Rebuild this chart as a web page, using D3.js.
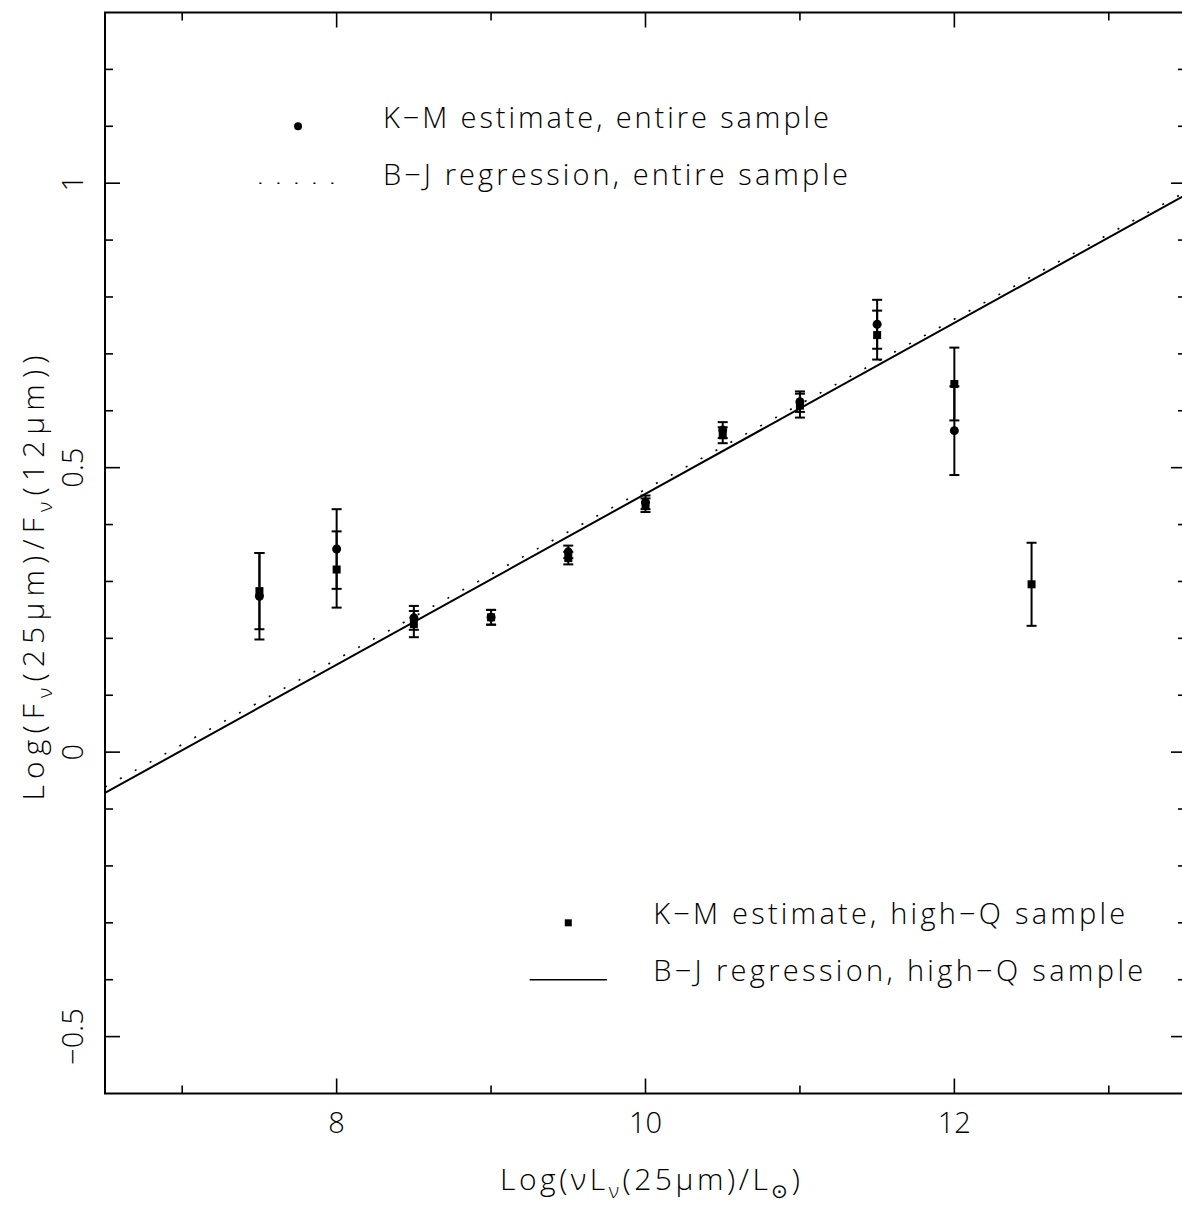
<!DOCTYPE html>
<html>
<head>
<meta charset="utf-8">
<script src="https://cdn.jsdelivr.net/npm/d3@7"></script>
<style>
  html, body { margin: 0; padding: 0; background: #fff; }
  svg { display: block; }
  text { font-family: "Open Sans", "Liberation Sans", sans-serif; font-weight: 300; fill: #000; }
</style>
</head>
<body>
<svg id="chart" width="1182" height="1207"></svg>
<script>
// Luminosity bins, log(nu L_nu(25um)/Lsun)
const lum = [7.5, 8, 8.5, 9, 9.5, 10, 10.5, 11, 11.5, 12, 12.5];

// Kaplan-Meier estimates of log(F25/F12), entire sample (circles)
const kmAll    = [0.274, 0.357, 0.236, 0.237, 0.352, 0.439, 0.566, 0.616, 0.752, 0.565, null];
const kmAllErr = [0.076, 0.070, 0.021, 0.013, 0.011, 0.012, 0.014, 0.018, 0.043, 0.078, null];

// Kaplan-Meier estimates, high-Q sample (squares)
const kmHQ    = [0.283, 0.321, 0.225, 0.237, 0.341, 0.434, 0.557, 0.609, 0.733, 0.647, 0.295];
const kmHQErr = [0.067, 0.067, 0.023, 0.013, 0.011, 0.012, 0.014, 0.021, 0.043, 0.064, 0.073];

// Buckley-James regressions: value at log L = 10 and slope
const bjAll = { at10: 0.462, slope: 0.1495 };
const bjHQ  = { at10: 0.454, slope: 0.1502 };

// Axis ticks
const xTicks = [7, 8, 9, 10, 11, 12, 13];
const xLabels = [8, 10, 12];
const yTicks = d3.range(-5, 13).map(i => i / 10);
const yLabels = [-0.5, 0, 0.5, 1];

// Legend entries
const legendText = [
  "K\u2212M estimate, entire sample",
  "B\u2212J regression, entire sample",
  "K\u2212M estimate, high\u2212Q sample",
  "B\u2212J regression, high\u2212Q sample"
];

const svg = d3.select("#chart");
const x = d3.scaleLinear().domain([6.5, 13.5]).range([105, 1186]);
const y = d3.scaleLinear().domain([-0.6, 1.3]).range([1093.5, 12.5]);
const [x0, x1] = x.range();
const [y0, y1] = y.range();

svg.append("defs").append("clipPath").attr("id", "plotclip")
  .append("rect").attr("x", x0).attr("y", y1).attr("width", x1 - x0).attr("height", y0 - y1);

const fmt = v => (v < 0 ? "\u2212" : "") + String(Math.abs(v));

// Frame
svg.append("rect").attr("x", x0).attr("y", y1).attr("width", x1 - x0).attr("height", y0 - y1)
  .attr("fill", "none").attr("stroke", "#000").attr("stroke-width", 2);

// Ticks on all four sides, pointing inward
const tickG = svg.append("g").attr("stroke", "#000").attr("stroke-width", 1.6);
xTicks.forEach(t => {
  const len = xLabels.includes(t) ? 15 : 8;
  tickG.append("line").attr("x1", x(t)).attr("x2", x(t)).attr("y1", y0).attr("y2", y0 - len);
  tickG.append("line").attr("x1", x(t)).attr("x2", x(t)).attr("y1", y1).attr("y2", y1 + len);
});
yTicks.forEach(t => {
  const major = yLabels.some(l => Math.abs(l - t) < 1e-9);
  const len = major ? 15 : 8;
  tickG.append("line").attr("y1", y(t)).attr("y2", y(t)).attr("x1", x0).attr("x2", x0 + len);
  tickG.append("line").attr("y1", y(t)).attr("y2", y(t)).attr("x1", x1).attr("x2", x1 - len);
});

// Tick labels
svg.append("g").selectAll("text").data(xLabels).join("text")
  .attr("x", d => x(d)).attr("y", 1133)
  .attr("text-anchor", "middle").attr("font-size", 29)
  .text(d => fmt(d));
svg.append("g").selectAll("text").data(yLabels).join("text")
  .attr("transform", d => `translate(83,${y(d)}) rotate(-90)`)
  .attr("text-anchor", "middle").attr("font-size", 29)
  .text(d => fmt(d));

// Axis titles
const xt = svg.append("text").attr("x", 650).attr("y", 1190)
  .attr("text-anchor", "middle").attr("font-size", 30)
  .attr("textLength", 300).attr("lengthAdjust", "spacing");
xt.append("tspan").text("Log(\u03bdL");
xt.append("tspan").attr("dy", 8).attr("font-size", 20).text("\u03bd");
xt.append("tspan").attr("dy", -8).text("(25\u03bcm)/L");
xt.append("tspan").attr("dy", 8).attr("font-size", 20).text("\u2299");
xt.append("tspan").attr("dy", -8).text(")");

const yt = svg.append("text").attr("transform", "translate(44,578) rotate(-90)")
  .attr("text-anchor", "middle").attr("font-size", 30)
  .attr("textLength", 445).attr("lengthAdjust", "spacing");
yt.append("tspan").text("Log(F");
yt.append("tspan").attr("dy", 8).attr("font-size", 20).text("\u03bd");
yt.append("tspan").attr("dy", -8).text("(25\u03bcm)/F");
yt.append("tspan").attr("dy", 8).attr("font-size", 20).text("\u03bd");
yt.append("tspan").attr("dy", -8).text("(12\u03bcm))");

// Regression lines
const plot = svg.append("g").attr("clip-path", "url(#plotclip)");
const lineGen = d3.line().x(d => x(d[0])).y(d => y(d[1]));
const fitPts = fit => x.domain().map(X => [X, fit.at10 + fit.slope * (X - 10)]);
plot.append("path").attr("d", lineGen(fitPts(bjAll)))
  .attr("fill", "none").attr("stroke", "#000").attr("stroke-width", 1.6)
  .attr("stroke-dasharray", "2,15");
plot.append("path").attr("d", lineGen(fitPts(bjHQ)))
  .attr("fill", "none").attr("stroke", "#000").attr("stroke-width", 2);

// Error bars
function errorBars(vals, errs) {
  const pts = lum.map((X, i) => ({ X, v: vals[i], e: errs[i] })).filter(d => d.v != null);
  const g = plot.append("g").attr("stroke", "#000").attr("stroke-width", 2);
  pts.forEach(d => {
    g.append("line").attr("x1", x(d.X)).attr("x2", x(d.X)).attr("y1", y(d.v - d.e)).attr("y2", y(d.v + d.e));
    [d.v - d.e, d.v + d.e].forEach(c =>
      g.append("line").attr("x1", x(d.X) - 5).attr("x2", x(d.X) + 5).attr("y1", y(c)).attr("y2", y(c)));
  });
  return pts;
}
const ptsAll = errorBars(kmAll, kmAllErr);
const ptsHQ = errorBars(kmHQ, kmHQErr);

plot.append("g").selectAll("circle").data(ptsAll).join("circle")
  .attr("cx", d => x(d.X)).attr("cy", d => y(d.v)).attr("r", 4.5).attr("fill", "#000");
plot.append("g").selectAll("rect").data(ptsHQ).join("rect")
  .attr("x", d => x(d.X) - 4).attr("y", d => y(d.v) - 4)
  .attr("width", 8).attr("height", 8).attr("fill", "#000");

// Legend, placed in data coordinates
const leg = svg.append("g");
leg.append("circle").attr("cx", x(7.75)).attr("cy", y(1.1)).attr("r", 4).attr("fill", "#000");
leg.append("line").attr("x1", x(7.5)).attr("x2", x(8.0)).attr("y1", y(1.0)).attr("y2", y(1.0))
  .attr("stroke", "#000").attr("stroke-width", 1.6).attr("stroke-dasharray", "2,16");
leg.append("rect").attr("x", x(9.5) - 3.5).attr("y", y(-0.3) - 3.5).attr("width", 7).attr("height", 7).attr("fill", "#000");
leg.append("line").attr("x1", x(9.25)).attr("x2", x(9.75)).attr("y1", y(-0.4)).attr("y2", y(-0.4))
  .attr("stroke", "#000").attr("stroke-width", 1.6);

const legRows = [
  { X: 8.3, v: 1.1, w: 446 },
  { X: 8.3, v: 1.0, w: 465 },
  { X: 10.05, v: -0.3, w: 472 },
  { X: 10.05, v: -0.4, w: 490 }
];
leg.selectAll("text").data(legRows).join("text")
  .attr("x", d => x(d.X)).attr("y", d => y(d.v) + 1.5)
  .attr("font-size", 29)
  .attr("textLength", d => d.w).attr("lengthAdjust", "spacing")
  .text((d, i) => legendText[i]);
</script>
</body>
</html>
